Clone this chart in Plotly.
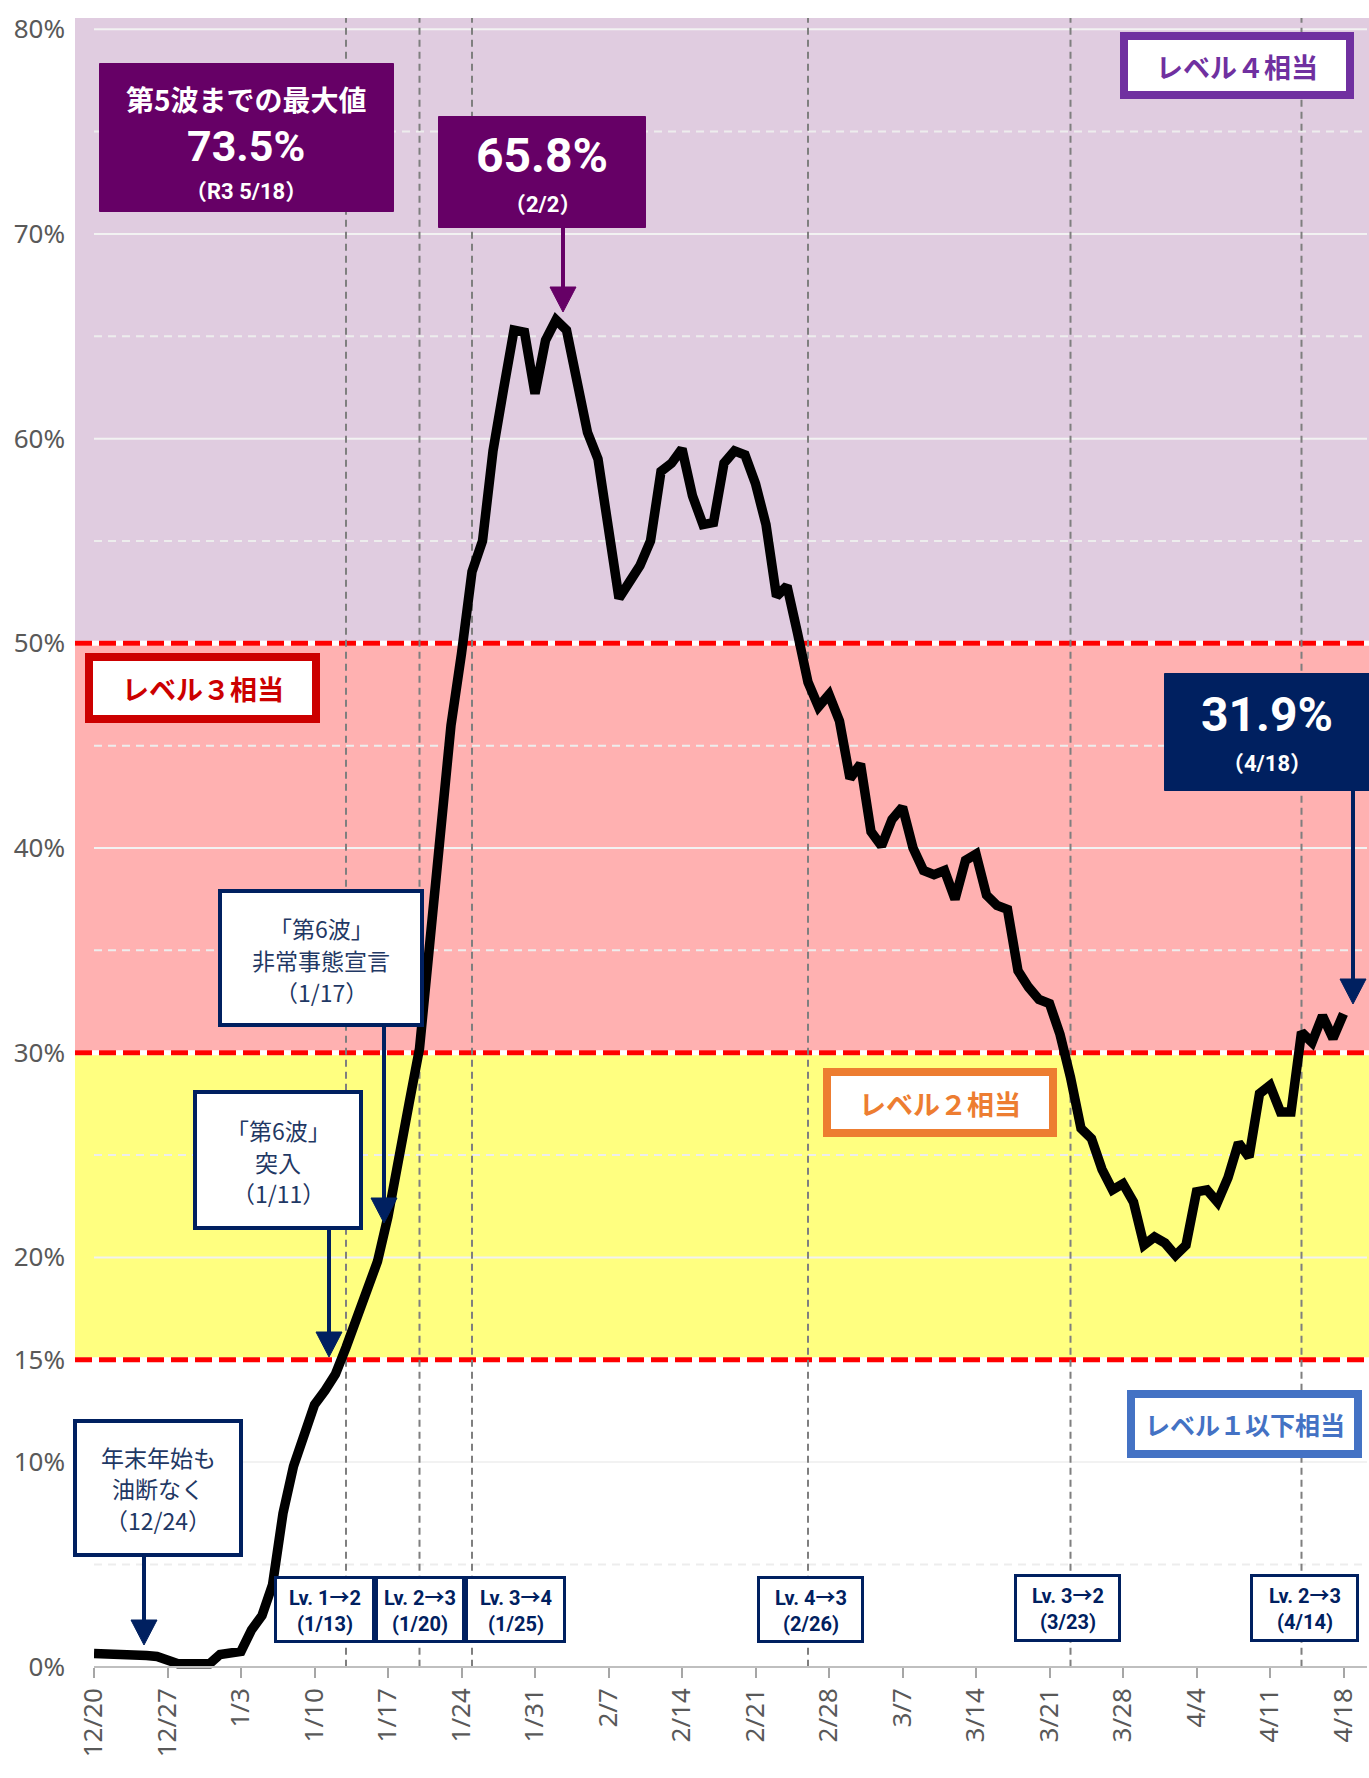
import pandas as pd
import plotly.graph_objects as go

# ---------------- data ----------------
dates = pd.date_range("2021-12-20", "2022-04-18", freq="D")
rate = [
    # 12/20 - 12/31
    0.65, 0.65, 0.65, 0.55, 0.55, 0.55, 0.5, 0.3, 0.15, 0.15, 0.15, 0.15,
    # 1/1 - 1/31
    0.6, 0.7, 0.75, 1.8, 2.5, 4.0, 7.5, 9.8, 11.2, 12.8, 13.5, 14.3, 15.6,
    17.0, 18.3, 19.8, 22.0, 24.5, 27.5, 30.2, 35.5, 40.5, 46.0, 49.5, 53.5,
    55.0, 59.4, 62.4, 65.3, 65.2, 62.2,
    # 2/1 - 2/28
    64.8, 65.8, 65.3, 62.9, 60.3, 59.0, 55.5, 52.2, 53.0, 53.8, 55.0, 58.4,
    58.8, 59.5, 57.2, 55.8, 55.9, 58.8, 59.4, 59.2, 57.8, 55.8, 52.3, 52.8,
    50.5, 48.1, 46.9, 47.5,
    # 3/1 - 3/31
    46.2, 43.4, 44.1, 40.8, 40.1, 41.4, 42.0, 40.0, 38.9, 38.7, 38.9, 37.5,
    39.4, 39.7, 37.7, 37.2, 37.0, 34.0, 33.2, 32.6, 32.4, 30.9, 28.8, 26.3,
    25.8, 24.3, 23.3, 23.6, 22.7, 20.6, 21.0,
    # 4/1 - 4/18
    20.7, 20.1, 20.6, 23.2, 23.3, 22.7, 23.9, 25.6, 24.9, 28.0, 28.4, 27.1,
    27.1, 31.0, 30.5, 31.8, 30.7, 31.9,
]

tick_dates = pd.date_range("2021-12-20", "2022-04-18", freq="7D")
tick_labels = ["12/20", "12/27", "1/3", "1/10", "1/17", "1/24", "1/31", "2/7",
               "2/14", "2/21", "2/28", "3/7", "3/14", "3/21", "3/28", "4/4",
               "4/11", "4/18"]
y_tickvals = [0, 10, 15, 20, 30, 40, 50, 60, 70, 80]
y_ticktext = ["0%", "10%", "15%", "20%", "30%", "40%", "50%", "60%", "70%", "80%"]
y_major_grid = [10, 20, 30, 40, 50, 60, 70, 80]
y_minor_grid = [5, 25, 35, 45, 55, 65, 75]

level_bounds = [0, 15, 30, 50]
level_colors = ["#FFFFFF", "#FFFF80", "#FFB1B1", "#E0CCE0"]
threshold_lines = [15, 30, 50]

event_dates = ["2022-01-13", "2022-01-20", "2022-01-25", "2022-02-26",
               "2022-03-23", "2022-04-14"]
event_texts = ["Lv. 1→2<br>(1/13)", "Lv. 2→3<br>(1/20)", "Lv. 3→4<br>(1/25)",
               "Lv. 4→3<br>(2/26)", "Lv. 3→2<br>(3/23)", "Lv. 2→3<br>(4/14)"]

# ---------------- geometry helpers ----------------
W, H = 1369, 1778
L, R, T, B = 94, 1367, 18, 1677
YMIN, YMAX = -0.5, 80.55


def px(x):
    return (x - L) / (R - L)


def py(y):
    return (B - y) / (B - T)


shapes = []
annots = []

# background bands
tops = level_bounds[1:] + [YMAX]
for lo, hi, col in zip(level_bounds, tops, level_colors):
    shapes.append(dict(type="rect", xref="paper", yref="y",
                       x0=px(75), x1=px(1369), y0=lo, y1=hi,
                       fillcolor=col, line=dict(width=0), layer="below"))

# gridlines
for v in y_major_grid:
    shapes.append(dict(type="line", xref="paper", yref="y", x0=0, x1=1, y0=v, y1=v,
                       line=dict(color="#F2F2F2", width=2), layer="below"))
for v in y_minor_grid:
    shapes.append(dict(type="line", xref="paper", yref="y", x0=0, x1=1, y0=v, y1=v,
                       line=dict(color="#EDEDED", width=2, dash="8px,6px"),
                       layer="below"))

# threshold red dashed lines
for v in threshold_lines:
    shapes.append(dict(type="line", xref="paper", yref="y", x0=px(75), x1=px(1369),
                       y0=v, y1=v, line=dict(color="white", width=5), layer="below"))
    shapes.append(dict(type="line", xref="paper", yref="y", x0=px(75), x1=px(1369),
                       y0=v, y1=v, line=dict(color="#FF0000", width=5, dash="17px,7px"),
                       layer="below"))

# vertical event lines
for d in event_dates:
    shapes.append(dict(type="line", xref="x", yref="y", x0=d, x1=d, y0=0, y1=YMAX,
                       line=dict(color="#7F7F7F", width=2, dash="7px,5px"),
                       layer="below"))


def box(x0, y0, x1, y1, fill, lc, lw):
    h = lw / 2
    shapes.append(dict(type="rect", xref="paper", yref="paper",
                       x0=px(x0 + h), x1=px(x1 - h), y0=py(y1 - h), y1=py(y0 + h),
                       fillcolor=fill, line=dict(color=lc, width=lw), layer="above"))


def text(x, y, t, size, color, family, bold=False):
    annots.append(dict(xref="paper", yref="paper", x=px(x), y=py(y), text=t,
                       showarrow=False, xanchor="center", yanchor="middle",
                       font=dict(size=size, color=color, family=family,
                                 weight="bold" if bold else "normal")))


def lines(x, ys, texts, size, color, family, bold=False):
    for yy, t in zip(ys, texts):
        text(x, yy, t, size, color, family, bold)


def arrow(x, y0, y1, color, lw=4, hw=13, hh=25):
    shapes.append(dict(type="line", xref="paper", yref="paper",
                       x0=px(x), x1=px(x), y0=py(y0), y1=py(y1 - hh + 2),
                       line=dict(color=color, width=lw), layer="above"))
    path = "M {} {} L {} {} L {} {} Z".format(px(x - hw), py(y1 - hh), px(x + hw),
                                              py(y1 - hh), px(x), py(y1))
    shapes.append(dict(type="path", xref="paper", yref="paper", path=path,
                       fillcolor=color, line=dict(color=color, width=1), layer="above"))


JP = "Noto Sans CJK JP"
NUM = "Roboto, Noto Sans CJK JP"
NAVY = "#002060"
PURPLE = "#660066"
TXT = "#1F3864"

# level labels
box(1120, 32, 1354, 99, "white", "#7030A0", 8)
text(1237, 66, "レベル４相当", 27, "#7030A0", JP, True)
box(85, 653, 320, 723, "white", "#CC0000", 8)
text(202.5, 688, "レベル３相当", 27, "#CC0000", JP, True)
box(823, 1068, 1057, 1137, "white", "#ED7D31", 8)
text(940, 1103, "レベル２相当", 27, "#ED7D31", JP, True)
box(1127, 1390, 1362, 1458, "white", "#4472C4", 8)
text(1244.5, 1424, "レベル１以下相当", 25, "#4472C4", JP, True)

# max value boxes
box(99, 63, 394, 212, PURPLE, PURPLE, 1)
text(246, 99, "第5波までの最大値", 28, "white", JP, True)
text(246, 146, "73.5%", 43, "white", NUM, True)
text(246, 192, "（R3 5/18）", 22, "white", NUM, True)

box(438, 116, 646, 228, PURPLE, PURPLE, 1)
text(542, 155, "65.8%", 48, "white", NUM, True)
text(542, 204, "（2/2）", 22, "white", NUM, True)
arrow(563, 228, 312, PURPLE)

box(1164, 673, 1372, 791, NAVY, NAVY, 1)
text(1267, 714, "31.9%", 48, "white", NUM, True)
text(1267, 763, "（4/18）", 22, "white", NUM, True)
arrow(1353, 791, 1004, NAVY)

# comment boxes
box(218, 889, 424, 1027, "white", NAVY, 4)
lines(321, [928, 960, 992], ["「第6波」", "非常事態宣言", "（1/17）"], 23, TXT, JP)
arrow(384, 1027, 1223, NAVY)

box(193, 1090, 363, 1230, "white", NAVY, 4)
lines(278, [1130, 1162, 1193], ["「第6波」", "突入", "（1/11）"], 23, TXT, JP)
arrow(329, 1230, 1357, NAVY)

box(73, 1419, 243, 1557, "white", NAVY, 4)
lines(158, [1457, 1488, 1520], ["年末年始も", "油断なく", "（12/24）"], 23, TXT, JP)
arrow(144, 1557, 1645, NAVY)

# level change boxes
lv_boxes = [(274, 1576, 375, 1643), (375, 1576, 465, 1643), (465, 1576, 566, 1643),
            (757, 1576, 864, 1643), (1014, 1574, 1121, 1642), (1250, 1574, 1359, 1642)]
for (x0, y0, x1, y1), t in zip(lv_boxes, event_texts):
    box(x0, y0, x1, y1, "white", NAVY, 3)
    text((x0 + x1) / 2, (y0 + y1) / 2 + 1, t, 20, NAVY, NUM, True)

# ---------------- figure ----------------
fig = go.Figure()
fig.add_trace(go.Scatter(x=dates, y=rate, mode="lines",
                         line=dict(color="black", width=9.5),
                         hoverinfo="skip", showlegend=False))

start = dates[0]
x_range = [start, start + pd.Timedelta(days=(R - L) / 10.5)]

fig.update_layout(
    width=W, height=H, autosize=False,
    margin=dict(l=L, r=W - R, t=T, b=H - B, pad=0),
    plot_bgcolor="white", paper_bgcolor="white",
    showlegend=False,
    shapes=shapes, annotations=annots,
    xaxis=dict(type="date", range=x_range, tickvals=list(tick_dates),
               ticktext=tick_labels, tickangle=-90,
               tickfont=dict(size=26, color="#595959", family="Noto Sans"),
               ticks="outside", ticklen=10, tickwidth=2, tickcolor="#A6A6A6",
               showline=True, linecolor="#BFBFBF", linewidth=2,
               showgrid=False, zeroline=False,
               anchor="free", position=(0 - YMIN) / (YMAX - YMIN)),
    yaxis=dict(range=[YMIN, YMAX], tickvals=y_tickvals, ticktext=y_ticktext,
               tickfont=dict(size=26, color="#595959", family="Noto Sans"),
               ticks="", ticklabelstandoff=28,
               showgrid=False, zeroline=False, showline=False),
)

fig.write_html("out.html", config={"displayModeBar": False},
               post_script="document.body.style.margin='0';document.body.style.overflow='hidden';")
